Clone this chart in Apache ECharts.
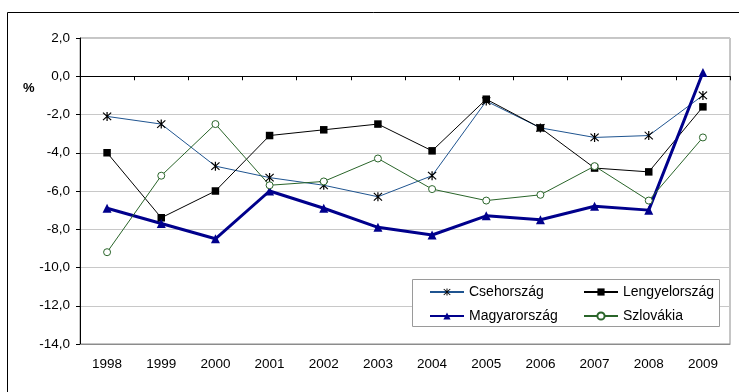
<!DOCTYPE html>
<html>
<head>
<meta charset="utf-8">
<script src="https://cdn.jsdelivr.net/npm/echarts@6/dist/echarts.min.js"></script>
<style>
  html, body { margin: 0; padding: 0; background: #fff; }
  #chart { width: 739px; height: 392px; }
</style>
</head>
<body>
<div id="chart"></div>
<script>
// Years on the category axis
const years = ['1998', '1999', '2000', '2001', '2002', '2003', '2004', '2005', '2006', '2007', '2008', '2009'];

// Values in percent, one array per country
const csehorszag    = [-2.1, -2.5, -4.7, -5.3, -5.7, -6.3, -5.2, -1.3, -2.7, -3.2, -3.1, -1.0];
const lengyelorszag = [-4.0, -7.4, -6.0, -3.1, -2.8, -2.5, -3.9, -1.2, -2.7, -4.8, -5.0, -1.6];
const magyarorszag  = [-6.9, -7.7, -8.5, -6.0, -6.9, -7.9, -8.3, -7.3, -7.5, -6.8, -7.0, 0.2];
const szlovakia     = [-9.2, -5.2, -2.5, -5.7, -5.5, -4.3, -5.9, -6.5, -6.2, -4.7, -6.5, -3.2];

// Value axis range and step
const yMin = -14, yMax = 2, yStep = 2;

const FONT = 'Liberation Sans, Arial, sans-serif';

// Asterisk marker: a vertical bar crossed by two diagonals
const asterisk = 'path://M4.4,0 L5.6,0 L5.6,10 L4.4,10 Z M0.6,1.2 L1.4,0.4 L9.4,8.8 L8.6,9.6 Z M8.6,0.4 L9.4,1.2 L1.4,9.6 L0.6,8.8 Z';

const chart = echarts.init(document.getElementById('chart'), null, { renderer: 'canvas' });

const commaFmt = v => v.toFixed(1).replace('.', ',');

// One legend block per entry so the 2x2 layout lines up in columns
function legendEntry(name, left, top) {
  return {
    orient: 'vertical', left: left, top: top, z: 10,
    itemWidth: 34, itemHeight: 9, itemGap: 0,
    textStyle: { fontSize: 14, color: '#000', fontFamily: FONT },
    data: [name]
  };
}

chart.setOption({
  animation: false,
  backgroundColor: '#ffffff',
  textStyle: { fontFamily: FONT },
  grid: {
    left: 80, top: 38, right: 9, bottom: 48,
    show: true, borderColor: '#8c8c8c', borderWidth: 1, backgroundColor: 'transparent'
  },
  xAxis: [
    {
      // bottom edge with the year labels
      type: 'category', data: years, boundaryGap: true, position: 'bottom',
      axisLine: { onZero: false, lineStyle: { color: '#8c8c8c', width: 1 } },
      axisTick: { show: false },
      axisLabel: { color: '#000', fontSize: 13.5, fontFamily: FONT, margin: 13 },
      splitLine: { show: false }
    },
    {
      // zero line with downward ticks between the years
      type: 'category', data: years, boundaryGap: true, position: 'bottom',
      axisLine: { onZero: true, lineStyle: { color: '#000', width: 1 } },
      axisTick: { show: true, inside: false, length: 4, lineStyle: { color: '#000' } },
      axisLabel: { show: false },
      splitLine: { show: false }
    }
  ],
  yAxis: {
    type: 'value', min: yMin, max: yMax, interval: yStep,
    axisLine: { show: true, lineStyle: { color: '#000', width: 1 } },
    axisTick: { show: true, inside: false, length: 4, lineStyle: { color: '#000' } },
    axisLabel: { color: '#000', fontSize: 13.5, fontFamily: FONT, margin: 10, formatter: commaFmt },
    splitLine: { show: true, lineStyle: { color: '#c8c8c8', width: 1 } }
  },
  graphic: [
    {
      type: 'rect', z: -10, silent: true,
      shape: { x: 7.5, y: 12.5, width: 900, height: 600 },
      style: { fill: 'none', stroke: '#000', lineWidth: 1 }
    },
    {
      type: 'text', left: 23, top: 82, silent: true,
      style: { text: '%', font: 'bold 13px ' + FONT, fill: '#000' }
    },
    {
      type: 'rect', z: 3, silent: true,
      shape: { x: 412.5, y: 279.5, width: 307, height: 47 },
      style: { fill: '#fff', stroke: '#9a9a9a', lineWidth: 1 }
    }
  ],
  legend: [
    legendEntry('Csehország', 424, 280),
    legendEntry('Magyarország', 424, 304),
    legendEntry('Lengyelország', 578, 280),
    legendEntry('Szlovákia', 578, 304)
  ],
  series: [
    {
      name: 'Csehország', type: 'line', data: csehorszag, xAxisIndex: 0,
      symbol: asterisk, symbolSize: 9, showAllSymbol: true,
      lineStyle: { color: '#1f5490', width: 1 },
      itemStyle: { color: '#000', borderWidth: 0 },
      emphasis: { disabled: true }
    },
    {
      name: 'Lengyelország', type: 'line', data: lengyelorszag, xAxisIndex: 0,
      symbol: 'rect', symbolSize: 7.5, showAllSymbol: true,
      lineStyle: { color: '#000', width: 1 },
      itemStyle: { color: '#000', borderWidth: 0 },
      emphasis: { disabled: true }
    },
    {
      name: 'Magyarország', type: 'line', data: magyarorszag, xAxisIndex: 0,
      symbol: 'triangle', symbolSize: 9, showAllSymbol: true,
      lineStyle: { color: '#00008c', width: 3 },
      itemStyle: { color: '#00008c', borderWidth: 0 },
      emphasis: { disabled: true }
    },
    {
      name: 'Szlovákia', type: 'line', data: szlovakia, xAxisIndex: 0,
      symbol: 'circle', symbolSize: 7, showAllSymbol: true,
      lineStyle: { color: '#2a652a', width: 1 },
      itemStyle: { color: '#fff', borderColor: '#2a652a', borderWidth: 1 },
      emphasis: { disabled: true }
    }
  ]
});
</script>
</body>
</html>
